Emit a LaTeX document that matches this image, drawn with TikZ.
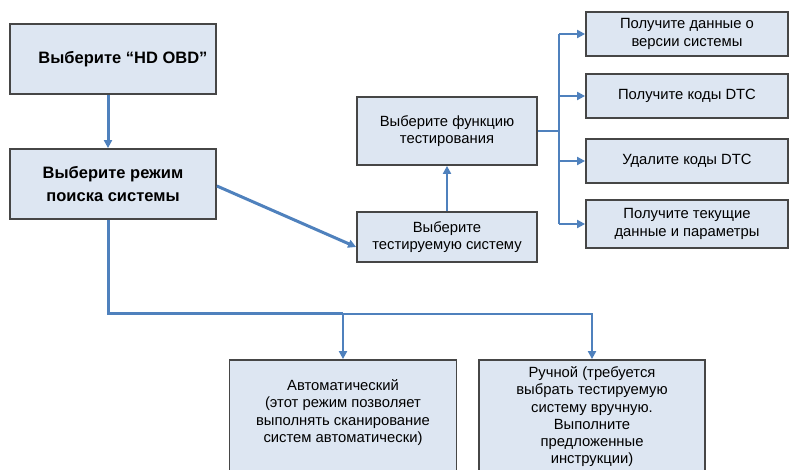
\documentclass[tikz,border=0pt]{standalone}
\usepackage{fontspec}
\setmainfont{Liberation Sans}
\usetikzlibrary{arrows.meta,positioning}
\definecolor{boxfill}{RGB}{221,230,242}
\definecolor{boxline}{RGB}{70,70,70}
\definecolor{linkblue}{RGB}{79,129,189}

\tikzset{
  box/.style={draw=boxline,line width=1.8pt,fill=boxfill,align=center,
    font=\fontsize{14.8}{17.5}\selectfont,inner sep=2pt},
  mainbox/.style={box,font=\fontsize{16.5}{23}\selectfont\bfseries},
  link/.style={draw=linkblue,line width=2pt},
  tip/.style={-{Triangle[length=8pt,width=8pt]}},
  bold link/.style={link,line width=3pt}
}

\begin{document}
\begin{tikzpicture}[x=1pt,y=-1pt]
  \useasboundingbox (0,0) rectangle (790,470);
  \clip (0,0) rectangle (790,470);
  % left column
  \node[mainbox,minimum width=206pt,minimum height=70pt] (hd) at (113,59) {\hspace*{20pt}Выберите “HD OBD”};
  \node[mainbox,minimum width=206pt,minimum height=70pt] (mode) at (113,184) {Выберите режим\\поиска системы};
  % middle column
  \node[box,minimum width=180pt,minimum height=68pt] (func) at (447,131) {Выберите функцию\\тестирования};
  \node[box,minimum width=180pt,minimum height=50pt] (sys) at (447,237) {Выберите\\тестируемую систему};
  % right column
  \node[box,minimum width=202pt,minimum height=44pt] (ver) at (687,34) {Получите данные о\\версии системы};
  \node[box,minimum width=202pt,minimum height=44pt] (dtc) at (687,96) {Получите коды DTC};
  \node[box,minimum width=202pt,minimum height=44pt] (del) at (687,161) {Удалите коды DTC};
  \node[box,minimum width=202pt,minimum height=48pt] (live) at (687,224) {Получите текущие\\данные и параметры};
  % bottom row (boxes run past the lower edge)
  \node[box,minimum width=227pt,minimum height=150pt] (auto) at (343,435) {};
  \node[box,minimum width=226pt,minimum height=150pt] (manual) at (592,435) {};
  \node[font=\fontsize{14.8}{17.2}\selectfont,align=center,anchor=north] (autotext) at ([yshift=-17pt]auto.north)
    {Автоматический\\(этот режим позволяет\\выполнять сканирование\\систем автоматически)};
  \node[font=\fontsize{14.8}{17.2}\selectfont,align=center,anchor=north] (mantext) at ([yshift=-4pt]manual.north)
    {Ручной (требуется\\выбрать тестируемую\\систему вручную.\\Выполните\\предложенные\\инструкции)};

  % connectors
  \draw[bold link,tip] ([xshift=-5pt]hd.south) -- ([xshift=-5pt]mode.north);
  \draw[bold link,tip] ([yshift=-2pt]mode.east) -- ([yshift=-10pt]sys.west);
  \draw[link,tip] (sys.north) -- (func.south);
  \coordinate (bus) at (559,131);
  \draw[link,line width=2.4pt] (func.east) -- (bus);
  \draw[link] (bus |- ver.west) -- (bus |- live.west);
  \foreach \n in {ver,dtc,del,live}
    \draw[link,tip] (bus |- \n.west) -- (\n.west);
  \coordinate (split) at (108,314);
  \draw[bold link] ([xshift=-5pt]mode.south) -- (split) -- (auto.north |- split);
  \draw[link,tip] (auto.north |- split) -| (manual.north);
  \draw[link,tip] (auto.north |- split) -- (auto.north);
\end{tikzpicture}
\end{document}
